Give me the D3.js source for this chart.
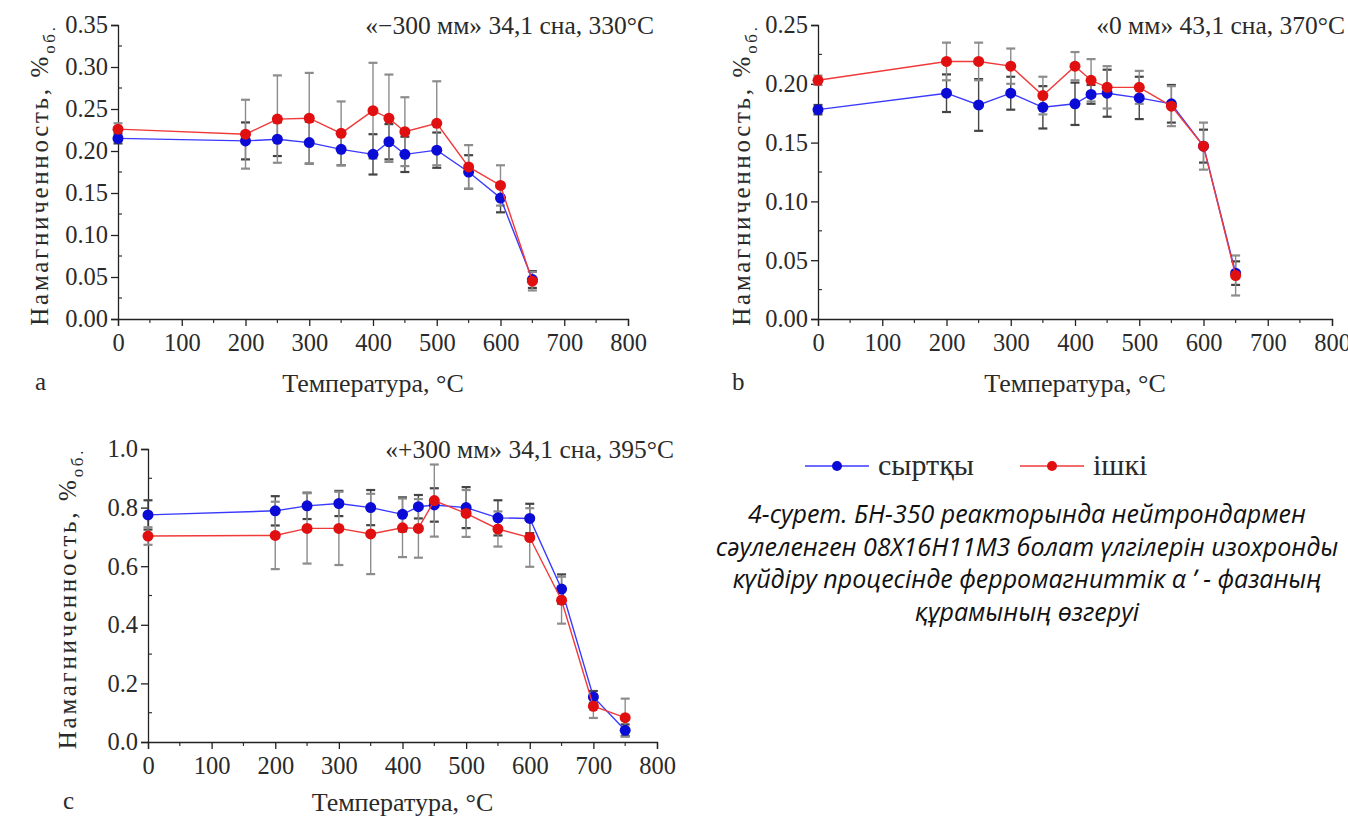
<!DOCTYPE html>
<html>
<head>
<meta charset="utf-8">
<script src="https://cdn.jsdelivr.net/npm/d3@7"></script>
<style>
  body { margin: 0; background: #fff; }
  svg { display: block; }
</style>
</head>
<body>
<svg id="chart" width="1348" height="820"></svg>
<script>
// ---- data ----
const tempsAB = [0, 200, 250, 300, 350, 400, 425, 450, 500, 550, 600, 650]
const tempsC = [0, 200, 250, 300, 350, 400, 425, 450, 500, 550, 600, 650, 700, 750]

// panel a: «−300 мм»
const outerA = [0.215, 0.212, 0.214, 0.210, 0.202, 0.196, 0.211, 0.196, 0.201, 0.175, 0.144, 0.047]
const innerA = [0.226, 0.220, 0.238, 0.239, 0.221, 0.248, 0.239, 0.223, 0.233, 0.181, 0.159, 0.045]
const outerErrA = [0.006, 0.022, 0.020, 0.025, 0.019, 0.024, 0.021, 0.021, 0.021, 0.020, 0.017, 0.010]
const innerErrA = [0.007, 0.041, 0.052, 0.054, 0.038, 0.057, 0.052, 0.041, 0.050, 0.026, 0.024, 0.011]

// panel b: «0 мм»
const outerB = [0.178, 0.192, 0.182, 0.192, 0.180, 0.183, 0.191, 0.192, 0.188, 0.183, 0.147, 0.039]
const innerB = [0.203, 0.219, 0.219, 0.215, 0.190, 0.215, 0.203, 0.197, 0.197, 0.181, 0.147, 0.037]
const outerErrB = [0.004, 0.016, 0.022, 0.014, 0.018, 0.018, 0.008, 0.020, 0.018, 0.016, 0.014, 0.010]
const innerErrB = [0.004, 0.016, 0.016, 0.015, 0.016, 0.012, 0.018, 0.018, 0.014, 0.017, 0.020, 0.017]

// panel c: «+300 мм»
const outerC = [0.775, 0.789, 0.806, 0.814, 0.800, 0.777, 0.803, 0.809, 0.800, 0.765, 0.763, 0.522, 0.154, 0.040]
const innerC = [0.703, 0.705, 0.729, 0.729, 0.710, 0.731, 0.729, 0.824, 0.780, 0.727, 0.698, 0.484, 0.122, 0.083]
const outerErrC = [0.050, 0.050, 0.045, 0.043, 0.060, 0.058, 0.040, 0.057, 0.070, 0.060, 0.050, 0.050, 0.020, 0.020]
const innerErrC = [0.030, 0.115, 0.120, 0.125, 0.137, 0.100, 0.100, 0.123, 0.080, 0.060, 0.100, 0.080, 0.040, 0.065]

const xTicks = [0, 100, 200, 300, 400, 500, 600, 700, 800]
const yTicksA = [0, 0.05, 0.10, 0.15, 0.20, 0.25, 0.30, 0.35]
const yTicksB = [0, 0.05, 0.10, 0.15, 0.20, 0.25]
const yTicksC = [0, 0.2, 0.4, 0.6, 0.8, 1.0]

const seriesNames = ["сыртқы", "ішкі"]
const titles = ["«\u2212300 мм» 34,1 сна, 330°C", "«0 мм» 43,1 сна, 370°C", "«+300 мм» 34,1 сна, 395°C"]
const xTitle = "Температура, °C"
const yTitle = "Намагниченность, %"
const yTitleSub = "об."
const captionLines = [
  "4-сурет. БН-350 реакторында нейтрондармен",
  "сәулеленген 08Х16Н11М3 болат үлгілерін изохронды",
  "күйдіру процесінде ферромагниттік α ʹ - фазаның",
  "құрамының өзгеруі"
]

const SERIF = "'Liberation Serif', 'Times New Roman', 'DejaVu Serif', serif"
const SANS = "'Open Sans', 'Noto Sans', sans-serif"

const colors = {
  outer: {line: "#3a3aff", dot: "#0b0bd6", err: "#444"},
  inner: {line: "#f03a3a", dot: "#e01010", err: "#8c8c8c"}
}

const svg = d3.select("#chart")

function serifText(sel, size){
  return sel.style("font-family", SERIF).style("font-size", size + "px").attr("fill", "#2a2a2a")
}

function drawPanel(p){
  const x = d3.scaleLinear().domain([0, 800]).range([p.left, p.right])
  const y = d3.scaleLinear().domain([0, p.yMax]).range([p.bottom, p.top])
  const g = svg.append("g")

  // minor ticks: x outward (short), y inward
  const xMinor = d3.range(50, 800, 100)
  g.selectAll(".xminor").data(xMinor).join("line")
    .attr("x1", d => x(d)).attr("x2", d => x(d))
    .attr("y1", p.bottom).attr("y2", p.bottom + 4)
    .attr("stroke", "#333").attr("stroke-width", 1.2)
  const yMinor = p.yTicks.slice(0, -1).map((t, i) => (t + p.yTicks[i + 1]) / 2)
  g.selectAll(".yminor").data(yMinor).join("line")
    .attr("x1", p.left).attr("x2", p.left + 4)
    .attr("y1", d => y(d)).attr("y2", d => y(d))
    .attr("stroke", "#333").attr("stroke-width", 1.2)

  const xAxis = g.append("g").attr("transform", `translate(0,${p.bottom})`)
    .call(d3.axisBottom(x).tickValues(xTicks).tickSize(7).tickPadding(4).tickFormat(d3.format("d")))
  const yAxis = g.append("g").attr("transform", `translate(${p.left},0)`)
    .call(d3.axisLeft(y).tickValues(p.yTicks).tickSize(7).tickPadding(3).tickFormat(d3.format(p.fmt)))
  ;[xAxis, yAxis].forEach(ax => {
    ax.attr("font-family", null).attr("font-size", null)
    ax.select(".domain").attr("stroke", "#222").attr("stroke-width", 1.3)
    ax.selectAll(".tick line").attr("stroke", "#222").attr("stroke-width", 1.3)
    serifText(ax.selectAll("text"), 24.5)
  })
  xAxis.selectAll("text").attr("dy", "0.85em")

  // error bars
  const series = [
    {vals: p.outer, err: p.outerErr, c: colors.outer},
    {vals: p.inner, err: p.innerErr, c: colors.inner}
  ]
  series.forEach(s => {
    const data = p.temps.map((t, i) => ({t: t, v: s.vals[i], e: s.err[i]}))
    const eb = g.append("g").attr("stroke", s.c.err).attr("stroke-width", 1.4)
    eb.selectAll(".stem").data(data).join("line")
      .attr("x1", d => x(d.t)).attr("x2", d => x(d.t))
      .attr("y1", d => y(d.v - d.e)).attr("y2", d => y(d.v + d.e))
    eb.selectAll(".capT").data(data).join("line")
      .attr("x1", d => x(d.t) - 4.5).attr("x2", d => x(d.t) + 4.5)
      .attr("y1", d => y(d.v + d.e)).attr("y2", d => y(d.v + d.e))
      .attr("stroke-width", 2.2)
    eb.selectAll(".capB").data(data).join("line")
      .attr("x1", d => x(d.t) - 4.5).attr("x2", d => x(d.t) + 4.5)
      .attr("y1", d => y(d.v - d.e)).attr("y2", d => y(d.v - d.e))
      .attr("stroke-width", 2.2)
  })

  const line = d3.line().x(d => x(d.t)).y(d => y(d.v))
  series.forEach(s => {
    const data = p.temps.map((t, i) => ({t: t, v: s.vals[i]}))
    g.append("path").datum(data)
      .attr("d", line).attr("fill", "none")
      .attr("stroke", s.c.line).attr("stroke-width", 1.4)
    g.selectAll(null).data(data).join("circle")
      .attr("cx", d => x(d.t)).attr("cy", d => y(d.v)).attr("r", 5.5)
      .attr("fill", s.c.dot)
  })

  // texts
  serifText(g.append("text"), 25.5)
    .attr("x", p.titleX).attr("y", p.top + 9).attr("text-anchor", "end")
    .text(p.title)
  serifText(g.append("text"), 26)
    .attr("x", (p.left + p.right) / 2).attr("y", p.bottom + p.xTitleDy).attr("text-anchor", "middle")
    .text(xTitle)
  const yt = serifText(g.append("text"), 25)
    .attr("transform", `translate(${p.yTitleX},${(p.top + p.bottom) / 2 + 3}) rotate(-90)`)
    .attr("text-anchor", "middle").style("letter-spacing", "2.7px")
  yt.append("tspan").text(yTitle)
  yt.append("tspan").attr("dy", 7).style("font-size", "17px").text(yTitleSub)
  serifText(g.append("text"), 25)
    .attr("x", p.letterX).attr("y", p.bottom + p.xTitleDy - 2)
    .text(p.letter)
}

drawPanel({left: 118, right: 628, top: 25, bottom: 319, yMax: 0.35, yTicks: yTicksA, fmt: ".2f",
  temps: tempsAB, outer: outerA, inner: innerA, outerErr: outerErrA, innerErr: innerErrA,
  title: titles[0], titleX: 654, yTitleX: 48, letter: "a", letterX: 35, xTitleDy: 73})
drawPanel({left: 818, right: 1332, top: 25, bottom: 319, yMax: 0.25, yTicks: yTicksB, fmt: ".2f",
  temps: tempsAB, outer: outerB, inner: innerB, outerErr: outerErrB, innerErr: innerErrB,
  title: titles[1], titleX: 1345, yTitleX: 750, letter: "b", letterX: 732, xTitleDy: 73})
drawPanel({left: 148, right: 657, top: 449, bottom: 742, yMax: 1.0, yTicks: yTicksC, fmt: ".1f",
  temps: tempsC, outer: outerC, inner: innerC, outerErr: outerErrC, innerErr: innerErrC,
  title: titles[2], titleX: 674, yTitleX: 76, letter: "c", letterX: 63, xTitleDy: 69})

// legend
const legend = svg.append("g")
const legendItems = [
  {name: seriesNames[0], c: colors.outer, x: 805},
  {name: seriesNames[1], c: colors.inner, x: 1020}
]
legendItems.forEach(it => {
  legend.append("line").attr("x1", it.x).attr("x2", it.x + 64).attr("y1", 466).attr("y2", 466)
    .attr("stroke", it.c.line).attr("stroke-width", 1.4)
  legend.append("circle").attr("cx", it.x + 32).attr("cy", 466).attr("r", 5).attr("fill", it.c.dot)
  serifText(legend.append("text"), 30).attr("x", it.x + 73).attr("y", 475)
    .text(it.name)
})

// caption
svg.append("g").selectAll("text").data(captionLines).join("text")
  .style("font-family", SANS).style("font-style", "italic").style("font-size", "25px")
  .attr("fill", "#111")
  .attr("x", 1027).attr("y", (d, i) => 523 + i * 32.5)
  .attr("text-anchor", "middle")
  .text(d => d)
</script>
</body>
</html>
